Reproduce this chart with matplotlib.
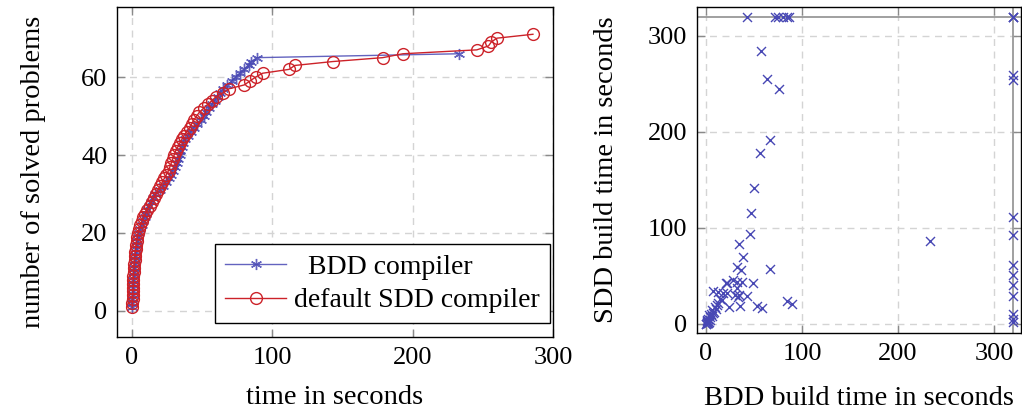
#!/usr/bin/env python3
"""Cactus plot of solved problems and scatter of BDD vs SDD build times."""

import matplotlib

matplotlib.use("Agg")
import matplotlib.pyplot as plt


TIMEOUT = 320

# cactus plot: sorted solve times (s), one entry per solved problem
bdd_times = [
    0.1, 0.2, 0.3, 0.4, 0.5, 0.6, 0.8, 1.0, 1.2, 1.4,
    1.6, 1.8, 2.0, 2.3, 2.6, 3.0, 3.4, 3.8, 4.3, 5.0,
    6, 7, 8, 9, 10, 11, 12, 13.5, 15, 16.5,
    20, 22, 24, 26, 27.5, 29, 30.5, 32, 33, 34,
    34.5, 35.5, 36.5, 38, 40, 42, 44, 46.5, 49, 51,
    53, 55, 57, 59, 61, 63, 65, 67.6, 71, 74,
    77, 80, 83.6, 85, 89, 233,
]
sdd_times = [
    0.2, 0.3, 0.4, 0.5, 0.6, 0.7, 0.8, 0.9, 1.0, 1.2,
    1.4, 1.6, 1.8, 2.0, 2.3, 2.6, 3.0, 3.4, 3.8, 4.3,
    5, 6, 7, 8, 9.5, 11, 12.5, 14, 15.5, 17,
    18.5, 20, 21.5, 23, 24.5, 26, 27, 28, 29, 30,
    31, 32.5, 34, 35.5, 37, 39, 41, 42.5, 44, 46,
    48, 51, 54, 57, 60, 65, 69, 80, 84, 88,
    93, 112, 116, 143, 178.6, 193, 245.7, 254, 256, 260,
    285.7,
]

# scatter: build times per instance, timeouts drawn at 320 s
bdd_build = [
    43, 72, 75, 80, 84, 86, 320, 320, 320,
    320, 320, 320, 320, 320, 320, 320, 320, 320, 320, 320,
    57, 63.5, 76, 66.7, 56, 50, 46.5, 46, 233, 34.7,
    38.9, 32, 36.5, 66.7, 22, 28, 32, 37.5, 49, 20.8,
    7, 12.5, 18, 22, 32, 30, 34.7, 33, 42.7, 16.7,
    24, 35.4, 53, 58, 84.4, 89.6, 14.6, 12.5, 9.4, 6,
    3, 1, 0.5, 1, 2, 0.3, 1.5, 2, 4, 5,
    8, 10, 11, 3, 4, 6, 7, 0.2, 0.8, 2.5,
]
sdd_build = [
    320, 320, 320, 320, 320, 320, 320, 320, 320,
    259, 254, 111, 93, 61, 51, 41, 29, 10, 5, 2,
    284, 255, 245, 192, 178, 142, 116, 94, 86, 83,
    70, 59, 56, 57, 43, 46, 44, 44, 43, 42.7,
    34, 33, 32, 32, 37.5, 30, 30, 28, 29, 25,
    18, 19, 19, 16.5, 24, 21, 26, 22, 18, 14.6,
    9, 4, 1, 2, 1, 0.5, 3, 5, 7, 10,
    13, 16, 20, 2, 4, 8, 11, 0.2, 0.6, 1.5,
]

BLUE = "#4848b4"
RED = "#cc2229"
GRID = "#d4d4d4"
TICK = "#8a8a8a"
LABEL_SIZE = 20.5
TICK_SIZE = 19


def style_axes(ax):
    ax.grid(True, color=GRID, linestyle=(0, (5, 4)), linewidth=1.0)
    ax.set_axisbelow(True)
    ax.tick_params(direction="in", length=6, width=1.0, color=TICK,
                   top=True, right=True, pad=7, labelsize=TICK_SIZE)
    for spine in ax.spines.values():
        spine.set_linewidth(1.0)
        spine.set_color("black")


def plot_cactus(ax):
    bdd_count = range(1, len(bdd_times) + 1)
    sdd_count = range(1, len(sdd_times) + 1)
    ax.plot(bdd_times, bdd_count, color=BLUE, linewidth=1.0, alpha=0.85,
            marker=(6, 2, 0), markersize=8, markeredgewidth=1.0,
            markeredgecolor=BLUE, label="  BDD compiler")
    ax.plot(sdd_times, sdd_count, color=RED, linewidth=1.0,
            marker="o", markersize=8.5, markerfacecolor="none",
            markeredgewidth=1.0, markeredgecolor=RED,
            label="default SDD compiler")
    ax.set_xlim(-10.7, 300)
    ax.set_ylim(-6.7, 78)
    ax.set_xticks([0, 100, 200, 300])
    ax.set_yticks([0, 20, 40, 60])
    ax.set_xlabel("time in seconds", fontsize=LABEL_SIZE, labelpad=12)
    ax.set_ylabel("number of solved problems", fontsize=LABEL_SIZE,
                  labelpad=25)
    style_axes(ax)
    leg = ax.legend(loc="lower right", bbox_to_anchor=(0.993, 0.042),
                    borderaxespad=0, fontsize=20, fancybox=False,
                    framealpha=1, edgecolor="black", handlelength=2.2,
                    borderpad=0.35, labelspacing=0.3, handletextpad=0.3)
    leg.get_frame().set_linewidth(1.0)


def plot_scatter(ax):
    ax.axhline(TIMEOUT, color="#999999", linewidth=1.3, zorder=1)
    ax.axvline(TIMEOUT, color="#999999", linewidth=1.3, zorder=1)
    ax.scatter(bdd_build, sdd_build, marker="x", s=42, color=BLUE,
               linewidths=1.0, zorder=3)
    ax.set_xlim(-9.4, 328)
    ax.set_ylim(-9.4, 330)
    ax.set_xticks([0, 100, 200, 300])
    ax.set_yticks([0, 100, 200, 300])
    ax.set_xlabel("BDD build time in seconds", fontsize=LABEL_SIZE,
                  labelpad=15)
    ax.set_ylabel("SDD build time in seconds", fontsize=LABEL_SIZE,
                  labelpad=21)
    style_axes(ax)


def main():
    plt.rcParams["font.family"] = ["Liberation Serif", "DejaVu Serif"]
    fig = plt.figure(figsize=(10.22, 4.12), dpi=100)
    ax_cactus = fig.add_axes([0.1145, 0.182, 0.4266, 0.801])
    ax_scatter = fig.add_axes([0.682, 0.1917, 0.317, 0.791])
    plot_cactus(ax_cactus)
    plot_scatter(ax_scatter)
    fig.savefig("out.png", dpi=100)


if __name__ == "__main__":
    main()
